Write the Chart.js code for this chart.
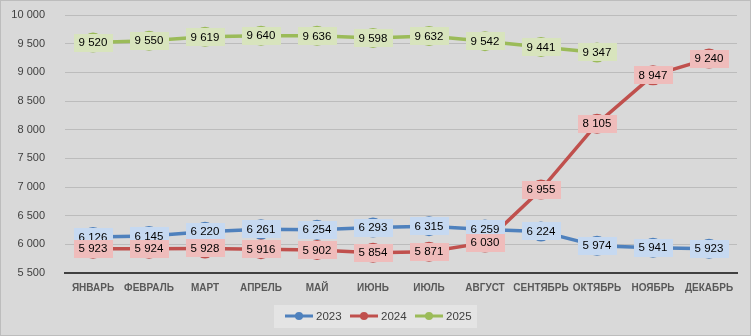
<!DOCTYPE html>
<html>
<head>
<meta charset="utf-8">
<script src="https://cdn.jsdelivr.net/npm/chart.js@4/dist/chart.umd.min.js"></script>
<style>
  html, body { margin: 0; padding: 0; background: #d9d9d9; }
  #wrap { width: 751px; height: 336px; }
</style>
</head>
<body>
<div id="wrap"><canvas id="salesChart"></canvas></div>
<script>
// months and yearly values
const months = ['ЯНВАРЬ', 'ФЕВРАЛЬ', 'МАРТ', 'АПРЕЛЬ', 'МАЙ', 'ИЮНЬ', 'ИЮЛЬ', 'АВГУСТ', 'СЕНТЯБРЬ', 'ОКТЯБРЬ', 'НОЯБРЬ', 'ДЕКАБРЬ'];
const years = ['2023', '2024', '2025'];
const values2023 = [6126, 6145, 6220, 6261, 6254, 6293, 6315, 6259, 6224, 5974, 5941, 5923];
const values2024 = [5923, 5924, 5928, 5916, 5902, 5854, 5871, 6030, 6955, 8105, 8947, 9240];
const values2025 = [9520, 9550, 9619, 9640, 9636, 9598, 9632, 9542, 9441, 9347];

const lineColors = ['#4f81bd', '#c0504d', '#9bbb59'];
const boxColors = ['#c6d9f1', '#efbcbb', '#d8e4bd'];
const fontFamily = '"Liberation Sans", Arial, sans-serif';

// 10000 -> "10 000"
function spaced(v) {
    return String(v).replace(/\B(?=(\d{3})+(?!\d))/g, ' ');
}

// gray background + thin frame
const backdrop = {
    id: 'backdrop',
    beforeDraw(chart) {
        const c = chart.ctx;
        c.save();
        c.fillStyle = '#d9d9d9';
        c.fillRect(0, 0, chart.width, chart.height);
        c.strokeStyle = '#bdbdbd';
        c.lineWidth = 1;
        c.strokeRect(0.5, 0.5, chart.width - 1, chart.height - 1);
        c.restore();
    }
};

// value boxes on top of every point
const valueBoxes = {
    id: 'valueBoxes',
    afterDatasetsDraw(chart) {
        const c = chart.ctx;
        c.save();
        c.font = '11.5px ' + fontFamily;
        c.textAlign = 'center';
        c.textBaseline = 'middle';
        chart.data.datasets.forEach(function(ds, di) {
            const meta = chart.getDatasetMeta(di);
            meta.data.forEach(function(pt, i) {
                const txt = spaced(ds.data[i]);
                const w = c.measureText(txt).width + 10;
                const h = 18;
                c.fillStyle = boxColors[di];
                c.fillRect(Math.round(pt.x - w / 2), Math.round(pt.y - h / 2), Math.round(w), h);
                c.fillStyle = '#000000';
                c.fillText(txt, pt.x, pt.y + 0.5);
            });
        });
        c.restore();
    }
};

// legend: line sample with a dot, in a lighter box
const lineLegend = {
    id: 'lineLegend',
    afterDraw(chart) {
        const c = chart.ctx;
        const y = 316;
        c.save();
        c.fillStyle = '#e4e4e4';
        c.fillRect(274, 305, 203, 23);
        c.font = '11.5px ' + fontFamily;
        c.textBaseline = 'middle';
        c.textAlign = 'left';
        let x = 285;
        years.forEach(function(yr, i) {
            c.strokeStyle = lineColors[i];
            c.lineWidth = 3;
            c.beginPath();
            c.moveTo(x, y);
            c.lineTo(x + 28, y);
            c.stroke();
            c.fillStyle = lineColors[i];
            c.beginPath();
            c.arc(x + 14, y, 4, 0, Math.PI * 2);
            c.fill();
            c.fillStyle = '#404040';
            c.fillText(yr, x + 31, y + 0.5);
            x += 65;
        });
        c.restore();
    }
};

const datasets = [values2023, values2024, values2025].map(function(vals, i) {
    return {
        label: years[i],
        data: vals,
        borderColor: lineColors[i],
        backgroundColor: lineColors[i],
        borderWidth: 3.5,
        pointRadius: 10,
        pointBorderWidth: 0,
        tension: 0
    };
});

const ctx = document.getElementById('salesChart').getContext('2d');
const chart = new Chart(ctx, {
    type: 'line',
    data: { labels: months, datasets: datasets },
    options: {
        responsive: true,
        maintainAspectRatio: false,
        animation: false,
        layout: { autoPadding: false, padding: { left: 0, right: 14, top: 15, bottom: 33 } },
        plugins: {
            legend: { display: false },
            tooltip: { enabled: false }
        },
        scales: {
            x: {
                offset: true,
                grid: { display: false, drawTicks: false },
                border: { color: '#404040', width: 2 },
                ticks: {
                    padding: 9,
                    color: '#595959',
                    maxRotation: 0,
                    autoSkip: false,
                    font: { family: fontFamily, size: 10, weight: 'bold' }
                },
                afterFit: function(s) { s.height = 30; }
            },
            y: {
                min: 5500,
                max: 10000,
                grid: { color: '#bcbcbc', lineWidth: 1, drawTicks: false },
                border: { display: false },
                ticks: {
                    stepSize: 500,
                    padding: 20,
                    color: '#404040',
                    font: { family: fontFamily, size: 11 },
                    callback: function(v) { return spaced(v); }
                },
                afterFit: function(s) {
                    s.width = 65;
                    s.paddingTop = 7;
                    s.paddingBottom = 7;
                }
            }
        }
    },
    plugins: [backdrop, valueBoxes, lineLegend]
});
</script>
</body>
</html>
